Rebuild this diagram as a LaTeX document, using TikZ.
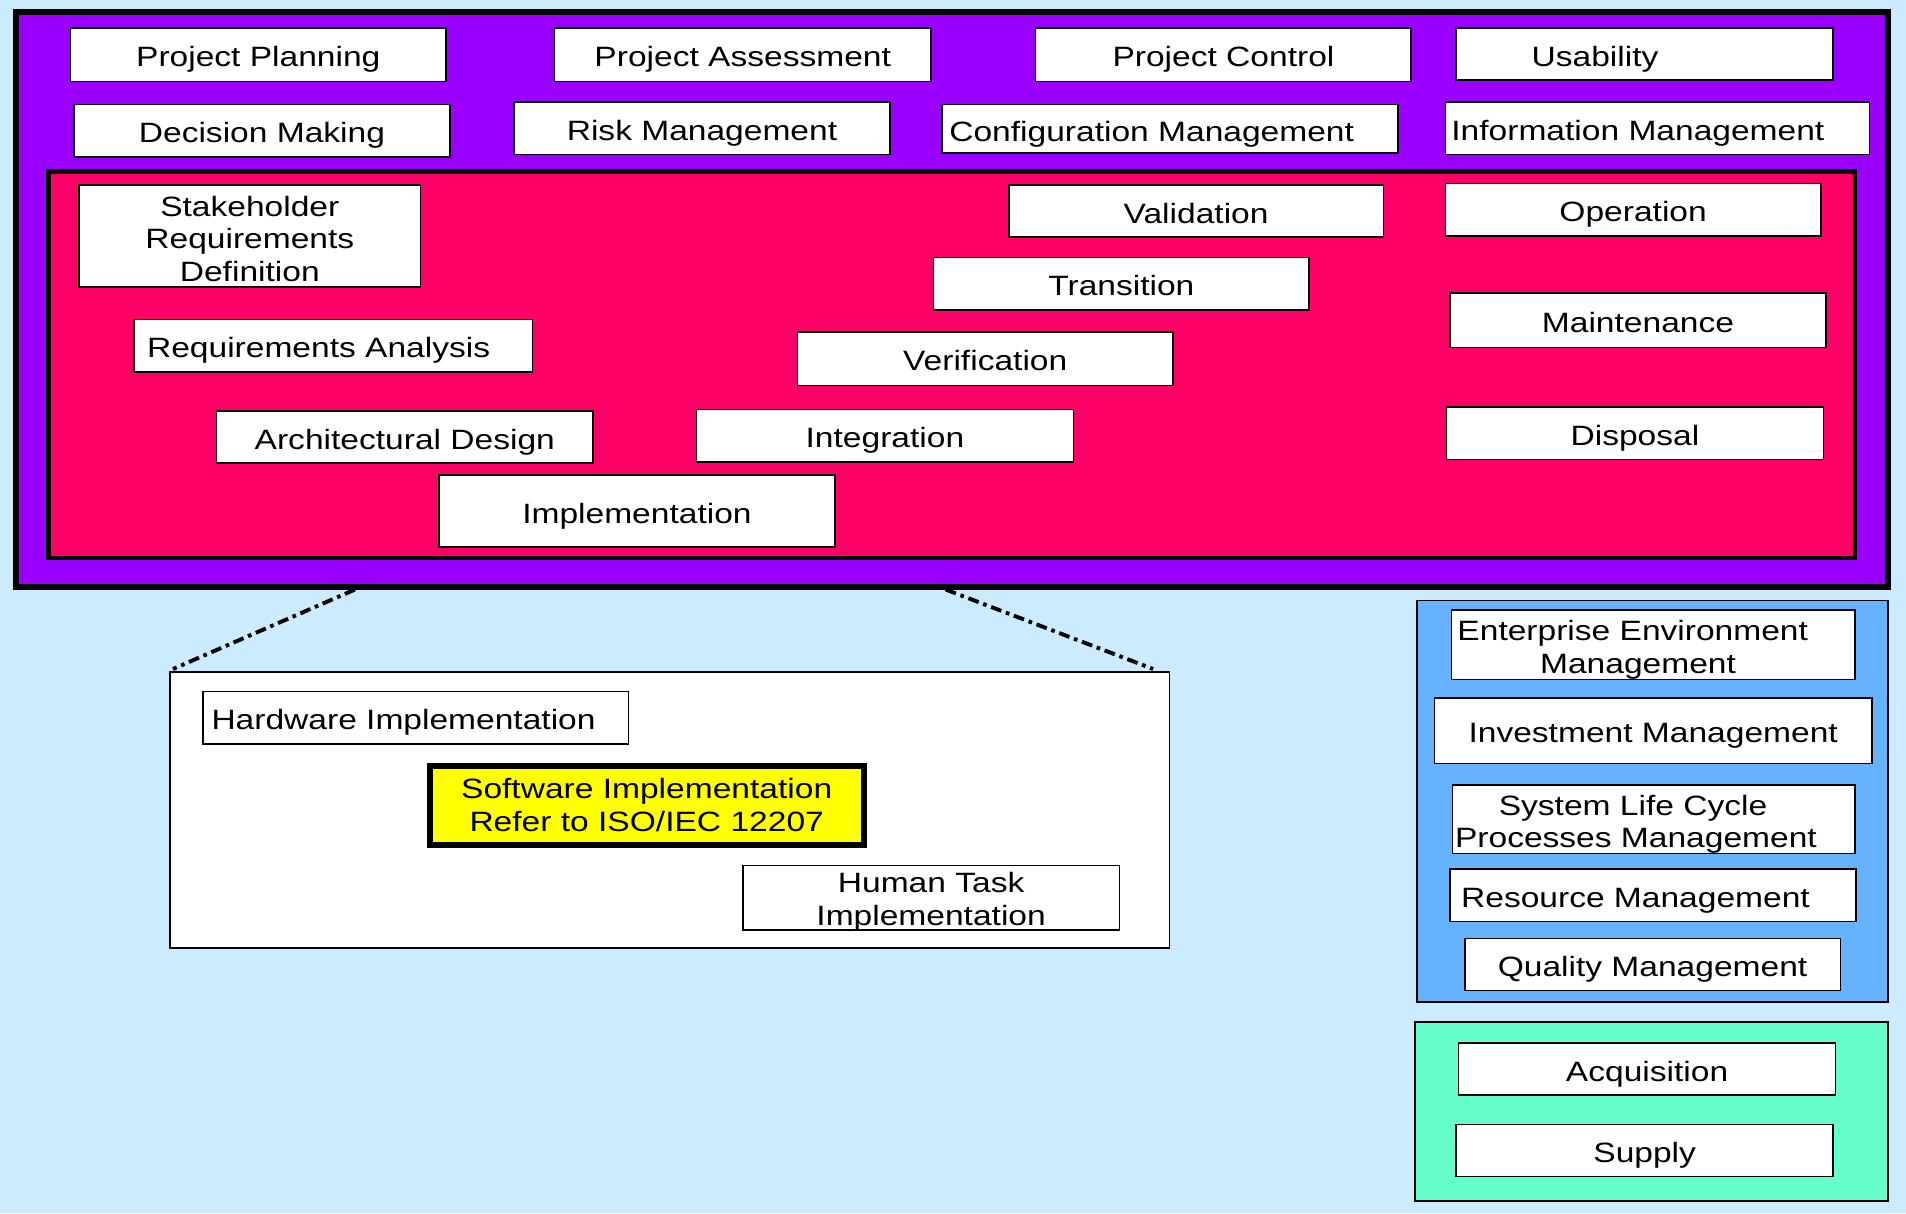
\documentclass[tikz,border=0pt]{standalone}
\usepackage{fontspec}
\setmainfont{Liberation Sans}[FakeStretch=1.2]
\definecolor{sky}{HTML}{CCEBFF}
\definecolor{mgmt}{HTML}{9900FF}
\definecolor{tech}{HTML}{FF0066}
\definecolor{orgblue}{HTML}{66B2FF}
\definecolor{agree}{HTML}{66FFCC}
\definecolor{hilite}{HTML}{FFFF00}
\begin{document}
\begin{tikzpicture}[x=1pt,y=-1pt,font=\fontsize{23}{27}\selectfont,proc/.style={draw,fill=white,line width=1.3pt,inner sep=0pt,align=center,text height=20pt,text depth=0pt},panel/.style={draw,line width=4.5pt},zoomline/.style={line width=3.2pt,dash pattern=on 9pt off 4pt on 3pt off 4pt}]
 \useasboundingbox (0,0) rectangle (1568,998);
 \fill[sky] (0,0) rectangle (1568,998);
 \draw[panel,fill=mgmt] (13,10) rectangle (1553,483);
 \draw[panel,line width=4pt,fill=tech] (40,141) rectangle (1526,459);
 % project and support processes
 \node[proc,minimum width=309,minimum height=44] (pplan) at (212.5,45) {Project Planning};
 \node[proc,minimum width=310,minimum height=44] (passess) at (611,45) {Project Assessment};
 \node[proc,minimum width=309,minimum height=44] (pctrl) at (1006.5,45) {Project Control};
 \node[proc,align=left,text width=186pt,inner xsep=62pt,minimum height=43] (usab) at (1353,44.5) {Usability};
 \node[proc,minimum width=309,minimum height=43] (decide) at (215.5,107.5) {Decision Making};
 \node[proc,minimum width=309,minimum height=43] (risk) at (577.5,105.5) {Risk Management};
 \node[proc,align=left,text width=363pt,inner xsep=6pt,minimum height=40] (config) at (962.5,106) {Configuration Management};
 \node[proc,align=left,text width=339pt,inner xsep=5pt,minimum height=43] (info) at (1363.5,105.5) {Information Management};
 % technical processes
 \node[proc,text height=75.5pt,minimum width=281,minimum height=84] (stake) at (205.5,194) {Stakeholder\\Requirements\\Definition};
 \node[proc,align=left,text width=306pt,inner xsep=11pt,minimum height=43] (reqan) at (274,284.5) {Requirements Analysis};
 \node[proc,minimum width=310,minimum height=43] (arch) at (333,359.5) {Architectural Design};
 \node[proc,minimum width=326,minimum height=59] (impl) at (524,420.5) {Implementation};
 \node[proc,minimum width=310,minimum height=43] (integ) at (728,358.5) {Integration};
 \node[proc,minimum width=309,minimum height=44] (verif) at (810.5,295) {Verification};
 \node[proc,minimum width=309,minimum height=43] (trans) at (922.5,233.5) {Transition};
 \node[proc,minimum width=308,minimum height=43] (valid) at (984,173.5) {Validation};
 \node[proc,minimum width=309,minimum height=43] (oper) at (1343.5,172.5) {Operation};
 \node[proc,minimum width=309,minimum height=45] (maint) at (1347.5,263.5) {Maintenance};
 \node[proc,minimum width=310,minimum height=43] (disp) at (1345,356.5) {Disposal};
 % implementation detail
 \node[draw,fill=white,line width=1.3pt,inner sep=0pt,minimum width=822,minimum height=227] (zoom) at (551,666.5) {};
 \coordinate (cutl) at (292,485); \coordinate (cutr) at (778,485);
 \draw[zoomline] (cutl) -- ([xshift=3pt,yshift=2pt]zoom.north west);
 \draw[zoomline] (cutr) -- ([xshift=-14pt,yshift=2pt]zoom.north east);
 \node[proc,align=left,text width=336pt,inner xsep=7pt,minimum height=43] (hwimpl) at (342,590.5) {Hardware Implementation};
 \node[proc,text height=43pt,fill=hilite,line width=5pt,minimum width=357,minimum height=65] (swimpl) at (532,662.5) {Software Implementation\\Refer to ISO/IEC 12207};
 \node[proc,text height=46pt,minimum width=310,minimum height=53] (human) at (766,738.5) {Human Task\\Implementation};
 % enterprise processes
 \draw[fill=orgblue,line width=1.5pt] (1166,494) rectangle (1553,824);
 \node[proc,text depth=27pt,align=left,text width=322pt,inner xsep=5pt,minimum height=57] (enter) at (1360,530.5) {Enterprise Environment\\\hspace*{68pt}Management};
 \node[proc,minimum width=360,minimum height=54] (invest) at (1360,601) {Investment Management};
 \node[proc,text depth=27pt,align=left,text width=327pt,inner xsep=2pt,minimum height=56] (slc) at (1360.5,674) {\hspace*{36pt}System Life Cycle\\Processes Management};
 \node[proc,align=left,text width=316pt,inner xsep=9pt,minimum height=43] (resrc) at (1360,736.5) {Resource Management};
 \node[proc,minimum width=309,minimum height=43] (qual) at (1359.5,793.5) {Quality Management};
 % agreement processes
 \draw[fill=agree,line width=1.5pt] (1164,841) rectangle (1553,988);
 \node[proc,minimum width=310,minimum height=43] (acq) at (1355,879.5) {Acquisition};
 \node[proc,minimum width=310,minimum height=43] (supply) at (1353,946.5) {Supply};
\end{tikzpicture}
\end{document}
